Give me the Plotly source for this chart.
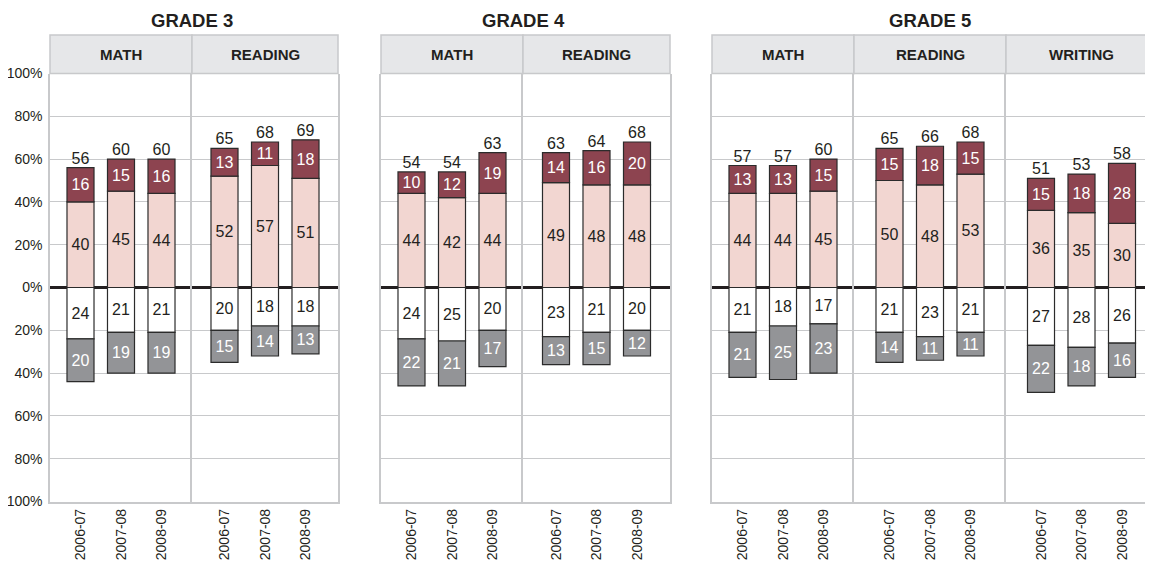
import plotly.graph_objects as go

# ---------------- data ----------------
years = ["2006-07", "2007-08", "2008-09"]
grades = ["GRADE 3", "GRADE 4", "GRADE 5"]
panel_grade = [0, 0, 1, 1, 2, 2, 2]
panel_subject = ["MATH", "READING", "MATH", "READING", "MATH", "READING", "WRITING"]

advanced = [[16, 15, 16], [13, 11, 18], [10, 12, 19], [14, 16, 20],
            [13, 13, 15], [15, 18, 15], [15, 18, 28]]
proficient = [[40, 45, 44], [52, 57, 51], [44, 42, 44], [49, 48, 48],
              [44, 44, 45], [50, 48, 53], [36, 35, 30]]
basic = [[24, 21, 21], [20, 18, 18], [24, 25, 20], [23, 21, 20],
         [21, 18, 17], [21, 23, 21], [27, 28, 26]]
below_basic = [[20, 19, 19], [15, 14, 13], [22, 21, 17], [13, 15, 12],
               [21, 25, 23], [14, 11, 11], [22, 18, 16]]

y_tickvals = [-100, -80, -60, -40, -20, 0, 20, 40, 60, 80, 100]
y_ticktext = ["100%", "80%", "60%", "40%", "20%", "0%", "20%", "40%", "60%", "80%", "100%"]

# ---------------- layout constants ----------------
OFF = 8                      # page body margin in the browser
W, H = 1153 - OFF, 561 - OFF
FONT = "Liberation Sans, Arial, sans-serif"
TXT = "#231f20"
RED = "#8d4450"
PINK = "#f2d6d1"
GRAYBAR = "#939497"
GRID = "#c8c9cb"
HEAD = "#e6e7e9"
OUT = "#2b2b2b"
VAL_SIZE = 16

# subject regions in window pixels (left, right)
regions = [(50, 192), (192, 338), (381, 523), (523, 670), (712, 854), (854, 1006), (1006, 1157)]
unit = 40.5          # px between bar centers
plot_top, plot_bot = 73.5 - OFF, 501.5 - OFF
y_dom = [1 - plot_bot / H, 1 - plot_top / H]
head_top, head_bot = 35 - OFF, plot_top

fig = go.Figure()
layout = {}
shapes = []
annotations = []

for i in range(len(panel_subject)):
    n = "" if i == 0 else str(i + 1)
    xa, ya = "x" + n, "y" + n
    l, r = regions[i][0] - OFF, regions[i][1] - OFF
    c = (l + r) / 2
    r_vis = min(r, W)
    x_range = [1 - (c - l) / unit, 1 + (r_vis - c) / unit]
    last_in_grade = (i == len(panel_grade) - 1) or (panel_grade[i + 1] != panel_grade[i])

    common = dict(x=years, xaxis=xa, yaxis=ya, textposition="inside",
                  insidetextanchor="middle", textangle=0, constraintext="none",
                  marker_line=dict(color=OUT, width=1.2), hoverinfo="skip")
    fig.add_bar(y=proficient[i], text=[str(v) for v in proficient[i]],
                marker_color=PINK, textfont=dict(color=TXT, size=VAL_SIZE, family=FONT), **common)
    fig.add_bar(y=advanced[i], text=[str(v) for v in advanced[i]],
                marker_color=RED, textfont=dict(color="white", size=VAL_SIZE, family=FONT), **common)
    fig.add_bar(y=[-v for v in basic[i]], text=[str(v) for v in basic[i]],
                marker_color="white", textfont=dict(color=TXT, size=VAL_SIZE, family=FONT), **common)
    fig.add_bar(y=[-v for v in below_basic[i]], text=[str(v) for v in below_basic[i]],
                marker_color=GRAYBAR, textfont=dict(color="white", size=VAL_SIZE, family=FONT), **common)
    totals = [p + a for p, a in zip(proficient[i], advanced[i])]
    fig.add_scatter(x=years, y=totals, xaxis=xa, yaxis=ya, mode="text",
                    text=[str(t) for t in totals], textposition="top center",
                    textfont=dict(color=TXT, size=VAL_SIZE, family=FONT), cliponaxis=False,
                    hoverinfo="skip")

    layout["xaxis" + n] = dict(
        domain=[l / W, r_vis / W], range=x_range, type="category", anchor=ya,
        tickangle=-90, showgrid=False, showline=True, linecolor=GRID, linewidth=1.5,
        ticks="", tickfont=dict(size=14, color=TXT, family=FONT), zeroline=False,
        automargin=False, fixedrange=True, ticklabelstandoff=0,
    )
    layout["yaxis" + n] = dict(
        domain=y_dom, range=[-100, 100], anchor=xa, tickvals=y_tickvals,
        ticktext=y_ticktext, showticklabels=(i == 0), showgrid=True, gridcolor=GRID,
        gridwidth=1.3, zeroline=True, zerolinecolor=TXT, zerolinewidth=2.5,
        showline=True, mirror=("all" if last_in_grade else False), linecolor=GRID,
        linewidth=1.5, ticks="",
        tickfont=dict(size=14, color=TXT, family=FONT), automargin=False,
        fixedrange=True, ticklabelstandoff=3,
    )

    # subject header box
    shapes.append(dict(type="rect", xref="paper", yref="paper",
                       x0=l / W, x1=r_vis / W, y0=1 - head_bot / H, y1=1 - head_top / H,
                       fillcolor=HEAD, line=dict(color=GRID, width=1.5), layer="above"))
    annotations.append(dict(text=panel_subject[i], xref="paper", yref="paper",
                            x=c / W, y=1 - (head_top + head_bot) / 2 / H, showarrow=False,
                            xanchor="center", yanchor="middle",
                            font=dict(size=15, color=TXT, family=FONT, weight="bold")))

# grade titles
for g, name in enumerate(grades):
    idx = [k for k, pg in enumerate(panel_grade) if pg == g]
    gl = regions[idx[0]][0] - OFF
    gr = min(regions[idx[-1]][1] - OFF, W)
    annotations.append(dict(text=name, xref="paper", yref="paper",
                            x=(gl + gr) / 2 / W - 2 / W, y=1 - (21 - OFF) / H, showarrow=False,
                            xanchor="center", yanchor="middle",
                            font=dict(size=18.5, color=TXT, family=FONT, weight="bold")))

fig.update_layout(
    width=W, height=H, margin=dict(l=0, r=0, t=0, b=0),
    barmode="relative", bargap=0.333, showlegend=False,
    plot_bgcolor="white", paper_bgcolor="white",
    font=dict(family=FONT, color=TXT), shapes=shapes, annotations=annotations,
    **layout,
)

fig.write_html("out.html")
